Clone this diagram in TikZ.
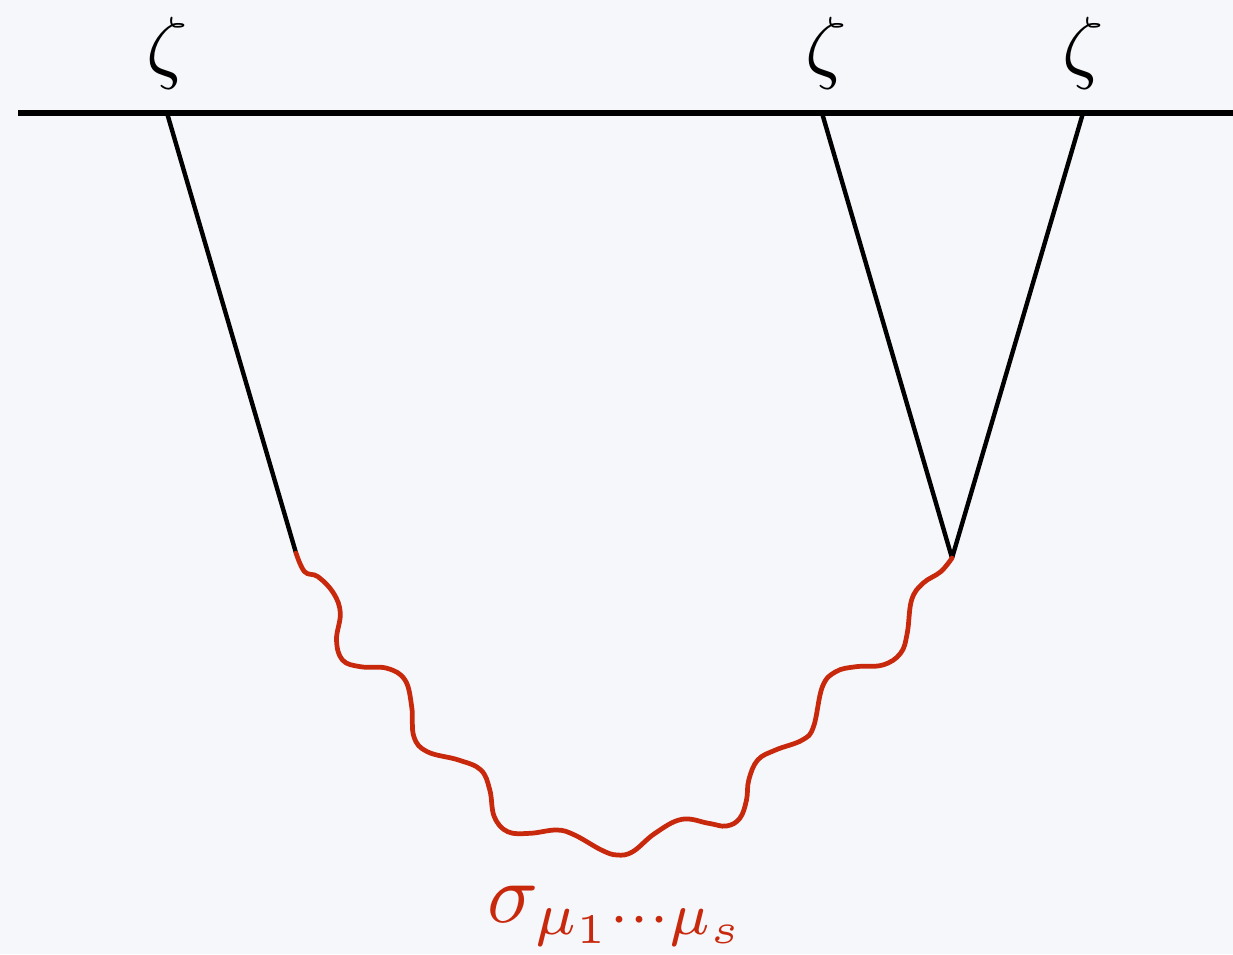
\documentclass[tikz,border=0pt]{standalone}
\definecolor{bg}{RGB}{245,247,250}
\definecolor{wred}{RGB}{200,40,12}
\tikzset{
  base/.style={line width=3pt, black},
  leg/.style={line width=2.5pt, black},
  wavy/.style={line width=2.7pt, wred, line join=round, line cap=round},
  zlab/.style={scale=4.6, inner sep=0pt},
  slab/.style={scale=4.8, text=wred, inner sep=0pt}
}
\begin{document}
\begin{tikzpicture}[x=0.02cm,y=-0.02cm]
\fill[bg] (0,0) rectangle (1233,954);
\useasboundingbox (0,0) rectangle (1233,954);
\coordinate (L) at (18,113);
\coordinate (R) at (1233,113);
\coordinate (A) at (167,113);
\coordinate (B) at (822,113);
\coordinate (C) at (1083,113);
\coordinate (P) at (296,553);
\coordinate (V) at (952,558);
\node[zlab] (z1) at (167,53) {$\zeta$};
\node[zlab] (z2) at (826,53) {$\zeta$};
\node[zlab] (z3) at (1083,53) {$\zeta$};
\draw[base] (L) -- (R);
\draw[leg] (A) -- (P);
\draw[leg] (B) -- (V);
\draw[leg] (C) -- (V);
\draw[wavy] plot[smooth, tension=0.65] coordinates {
  (P) (304.6,571.7) (318,576.7) (333.6,593.3) (340.3,613.3) (336.5,640)
  (342.5,660) (360.4,666.7) (387.1,668.3) (405,680) (411.7,706.7)
  (413.9,736.7) (427.3,751.7) (458.6,760) (480.9,770) (489.8,790)
  (494.3,816.7) (507.7,831.7) (530,833.3) (556.8,830) (574.6,835)
  (601.4,850) (617,855) (632.7,851.7) (655,833.3) (681.8,819.3)
  (708.6,823.3) (726.4,826) (739.8,818.3) (746.5,800) (748.75,780)
  (757.7,760) (775.5,750) (802.3,740) (813.5,726.7) (822.4,686.7)
  (835.8,671.7) (855.9,666.7) (882.7,665) (900.5,653.3) (907.2,633.3)
  (911.6,600) (922.9,583.3) (940.7,571.7) (V)};
\node[slab] (sig) at (617,916) {$\sigma_{\mu_1\cdots\mu_s}$};
\end{tikzpicture}
\end{document}
